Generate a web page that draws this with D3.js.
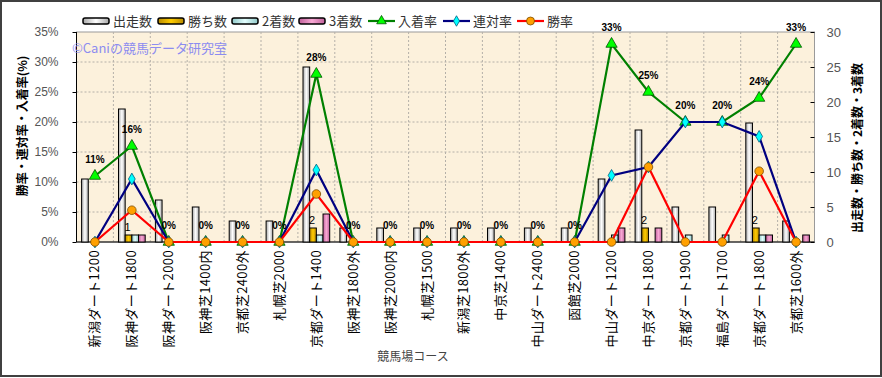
<!DOCTYPE html>
<html lang="ja">
<head>
<meta charset="UTF-8">
<title>競馬場コース別成績</title>
<script src="https://d3js.org/d3.v7.min.js"></script>
<style>
  body { margin: 0; background: #fff; }
  svg text { font-family: "Noto Sans CJK JP", sans-serif; }
</style>
</head>
<body>
<svg id="chart"></svg>
<script>
const courses = ["新潟ダート1200", "阪神ダート1800", "阪神ダート2000", "阪神芝1400内", "京都芝2400外",
  "札幌芝2000", "京都ダート1400", "阪神芝1800外", "阪神芝2000内", "札幌芝1500", "新潟芝1800外",
  "中京芝1400", "中山ダート2400", "函館芝2000", "中山ダート1200", "中京ダート1800", "京都ダート1900",
  "福島ダート1700", "京都ダート1800", "京都芝1600外"];
const starts  = [9, 19, 6, 5, 3, 3, 25, 2, 2, 2, 2, 2, 2, 2, 9, 16, 5, 5, 17, 3];
const wins    = [0, 1, 0, 0, 0, 0, 2, 0, 0, 0, 0, 0, 0, 0, 0, 2, 0, 0, 2, 0];
const seconds = [0, 1, 0, 0, 0, 0, 1, 0, 0, 0, 0, 0, 0, 0, 1, 0, 1, 1, 1, 0];
const thirds  = [0, 1, 0, 0, 0, 0, 4, 0, 0, 0, 0, 0, 0, 0, 2, 2, 0, 0, 1, 1];
const placeRate    = [11, 16, 0, 0, 0, 0, 28, 0, 0, 0, 0, 0, 0, 0, 33, 25, 20, 20, 24, 33];
const quinellaRate = [0, 10.5, 0, 0, 0, 0, 12, 0, 0, 0, 0, 0, 0, 0, 11.1, 12.5, 20, 20, 17.6, 0];
const winRate      = [0, 5.3, 0, 0, 0, 0, 8, 0, 0, 0, 0, 0, 0, 0, 0, 12.5, 0, 0, 11.8, 0];
const leftTicks  = [0, 5, 10, 15, 20, 25, 30, 35];
const rightTicks = [0, 5, 10, 15, 20, 25, 30];

const W = 882, H = 378;
const plot = { left: 76.5, right: 814.5, top: 32, bottom: 242 };

const svg = d3.select("#chart").attr("width", W).attr("height", H);

// gradients for bars
const defs = svg.append("defs");
const grads = {
  start: ["#a8a8a8", "#ffffff", "#a8a8a8"],
  win:   ["#b88a00", "#ffcc00", "#b88a00"],
  second:["#8fc8c8", "#e4ffff", "#8fc8c8"],
  third: ["#c0609a", "#f8a8d4", "#c0609a"]
};
Object.entries(grads).forEach(([k, c]) => {
  const g = defs.append("linearGradient").attr("id", "g-" + k)
    .attr("x1", "0%").attr("x2", "100%").attr("y1", "0%").attr("y2", "0%");
  g.append("stop").attr("offset", "0%").attr("stop-color", c[0]);
  g.append("stop").attr("offset", "50%").attr("stop-color", c[1]);
  g.append("stop").attr("offset", "100%").attr("stop-color", c[2]);
});

// outer frame
svg.append("rect").attr("x", 1).attr("y", 1).attr("width", W - 2).attr("height", H - 3)
  .attr("fill", "#fff").attr("stroke", "#404040").attr("stroke-width", 2);

const x = d3.scaleBand().domain(courses).range([plot.left, plot.right]);
const bw = x.bandwidth();
const series = ["start", "win", "second", "third"];
const xs = d3.scaleBand().domain(series).range([5.1, bw - 5.1]);
const yL = d3.scaleLinear().domain([0, 35]).range([plot.bottom, plot.top]);
const yR = d3.scaleLinear().domain([0, 30]).range([plot.bottom, plot.top]);
const cx = d => x(d) + bw / 2;

// plot background
svg.append("rect").attr("x", plot.left).attr("y", plot.top)
  .attr("width", plot.right - plot.left).attr("height", plot.bottom - plot.top)
  .attr("fill", "#fcf1dc").attr("stroke", "#9a9a9a");

// grid
svg.append("g").selectAll("line").data(leftTicks.slice(1, -1)).join("line")
  .attr("x1", plot.left).attr("x2", plot.right)
  .attr("y1", d => yL(d)).attr("y2", d => yL(d))
  .attr("stroke", "#b4b0a8").attr("stroke-dasharray", "2,2");
svg.append("g").selectAll("line").data(courses.slice(1)).join("line")
  .attr("x1", d => x(d)).attr("x2", d => x(d))
  .attr("y1", plot.top).attr("y2", plot.bottom)
  .attr("stroke", "#b4b0a8").attr("stroke-dasharray", "2,2");

// axis lines
svg.append("line").attr("x1", plot.left).attr("x2", plot.left).attr("y1", plot.top).attr("y2", plot.bottom).attr("stroke", "#000");
svg.append("line").attr("x1", plot.left).attr("x2", plot.right).attr("y1", plot.bottom).attr("y2", plot.bottom).attr("stroke", "#000");

// left axis
const axL = svg.append("g").attr("transform", `translate(${plot.left},0)`)
  .call(d3.axisLeft(yL).tickValues(leftTicks).tickFormat(d => d + "%").tickSize(4).tickPadding(14));
axL.select(".domain").remove();
axL.selectAll("text").attr("fill", "#555").style("font-size", "12px").style("font-family", "Liberation Sans, sans-serif");
axL.selectAll("line").attr("stroke", "#000");

// right axis
const axR = svg.append("g").attr("transform", `translate(${plot.right},0)`)
  .call(d3.axisRight(yR).tickValues(rightTicks).tickSize(-4).tickPadding(12));
axR.select(".domain").remove();
axR.selectAll("text").attr("fill", "#555").style("font-size", "13px").style("font-family", "Liberation Sans, sans-serif");
axR.selectAll("line").attr("stroke", "#000");

// x labels
svg.append("g").selectAll("text").data(courses).join("text")
  .attr("transform", d => `translate(${cx(d) + 4.5},250) rotate(-90)`)
  .attr("text-anchor", "end").attr("font-size", "13px").attr("fill", "#000")
  .attr("letter-spacing", "0.4px")
  .text(d => d);

// axis titles
svg.append("text").attr("transform", "translate(27,126) rotate(-90)")
  .attr("text-anchor", "middle").attr("font-size", "12px").attr("font-weight", "bold")
  .text("勝率・連対率・入着率(%)");
svg.append("text").attr("transform", "translate(862,148) rotate(-90)")
  .attr("text-anchor", "middle").attr("font-size", "12px").attr("font-weight", "bold")
  .text("出走数・勝ち数・2着数・3着数");
svg.append("text").attr("x", 413).attr("y", 361).attr("text-anchor", "middle")
  .attr("font-size", "12px").attr("fill", "#444").text("競馬場コース");

// watermark
svg.append("text").attr("x", 72).attr("y", 53).attr("font-size", "13px")
  .attr("fill", "#8c8cf0").text("©Caniの競馬データ研究室");

// bars
const barData = { start: starts, win: wins, second: seconds, third: thirds };
const bars = svg.append("g");
courses.forEach((c, i) => {
  series.forEach(s => {
    const v = barData[s][i];
    if (v <= 0) return;
    bars.append("rect")
      .attr("x", x(c) + xs(s)).attr("width", xs.bandwidth())
      .attr("y", yR(v)).attr("height", yR(0) - yR(v))
      .attr("fill", `url(#g-${s})`).attr("stroke", "#000").attr("stroke-width", 1);
  });
});

// lines
function drawLine(vals, color, marker) {
  const line = d3.line().x((d, i) => cx(courses[i])).y(d => yL(d));
  svg.append("path").datum(vals).attr("d", line)
    .attr("fill", "none").attr("stroke", color).attr("stroke-width", 2.2);
  const g = svg.append("g");
  vals.forEach((v, i) => marker(g, cx(courses[i]), yL(v)));
}
drawLine(placeRate, "#008000", (g, px, py) => g.append("path")
  .attr("d", d3.symbol(d3.symbolTriangle, 55)())
  .attr("transform", `translate(${px},${py})`)
  .attr("fill", "#00ff00").attr("stroke", "#005000").attr("stroke-width", 0.8));
drawLine(quinellaRate, "#000080", (g, px, py) => g.append("path")
  .attr("d", d3.symbol(d3.symbolDiamond, 40)())
  .attr("transform", `translate(${px},${py})`)
  .attr("fill", "#00ffff").attr("stroke", "#006080").attr("stroke-width", 0.8));
drawLine(winRate, "#ff0000", (g, px, py) => g.append("circle")
  .attr("cx", px).attr("cy", py).attr("r", 4.3)
  .attr("fill", "#ffa000").attr("stroke", "#7a4a00").attr("stroke-width", 0.8));

// data labels: 入着率
svg.append("g").selectAll("text").data(placeRate).join("text")
  .attr("x", (d, i) => cx(courses[i])).attr("y", d => yL(d) - 13)
  .attr("text-anchor", "middle").attr("font-size", "10px").attr("font-weight", "bold")
  .style("font-family", "Liberation Sans, sans-serif")
  .text(d => d + "%");

// data labels: 勝ち数
svg.append("g").selectAll("text").data(wins.map((v, i) => [v, i]).filter(d => d[0] > 0)).join("text")
  .attr("x", d => x(courses[d[1]]) + xs("win") + xs.bandwidth() / 2 - 1)
  .attr("y", d => yR(d[0]) - 4)
  .attr("text-anchor", "middle").attr("font-size", "11px")
  .style("font-family", "Liberation Sans, sans-serif")
  .text(d => d[0]);

// legend
const legend = svg.append("g").attr("transform", "translate(0,21)");
const legItems = [
  { label: "出走数", type: "bar", key: "start", x: 83 },
  { label: "勝ち数", type: "bar", key: "win", x: 158 },
  { label: "2着数", type: "bar", key: "second", x: 232 },
  { label: "3着数", type: "bar", key: "third", x: 299 },
  { label: "入着率", type: "line", color: "#008000", mk: "tri", x: 368 },
  { label: "連対率", type: "line", color: "#000080", mk: "dia", x: 443 },
  { label: "勝率", type: "line", color: "#ff0000", mk: "cir", x: 517 }
];
legItems.forEach(it => {
  if (it.type === "bar") {
    legend.append("rect").attr("x", it.x).attr("y", -3).attr("width", 26).attr("height", 6)
      .attr("rx", 2).attr("fill", `url(#g-${it.key})`).attr("stroke", "#000").attr("stroke-width", 1.5);
  } else {
    legend.append("line").attr("x1", it.x).attr("x2", it.x + 27).attr("y1", 0).attr("y2", 0)
      .attr("stroke", it.color).attr("stroke-width", 2.2);
    const mx = it.x + 13.5;
    if (it.mk === "tri") legend.append("path").attr("d", d3.symbol(d3.symbolTriangle, 40)())
      .attr("transform", `translate(${mx},0)`).attr("fill", "#00ff00").attr("stroke", "#005000").attr("stroke-width", 0.8);
    if (it.mk === "dia") legend.append("path").attr("d", d3.symbol(d3.symbolDiamond, 32)())
      .attr("transform", `translate(${mx},0)`).attr("fill", "#00ffff").attr("stroke", "#006080").attr("stroke-width", 0.8);
    if (it.mk === "cir") legend.append("circle").attr("cx", mx).attr("cy", 0).attr("r", 4)
      .attr("fill", "#ffa000").attr("stroke", "#7a4a00").attr("stroke-width", 0.8);
  }
  legend.append("text").attr("x", it.x + 30).attr("y", 4.5).attr("font-size", "13px")
    .attr("fill", "#333").text(it.label);
});
</script>
</body>
</html>
